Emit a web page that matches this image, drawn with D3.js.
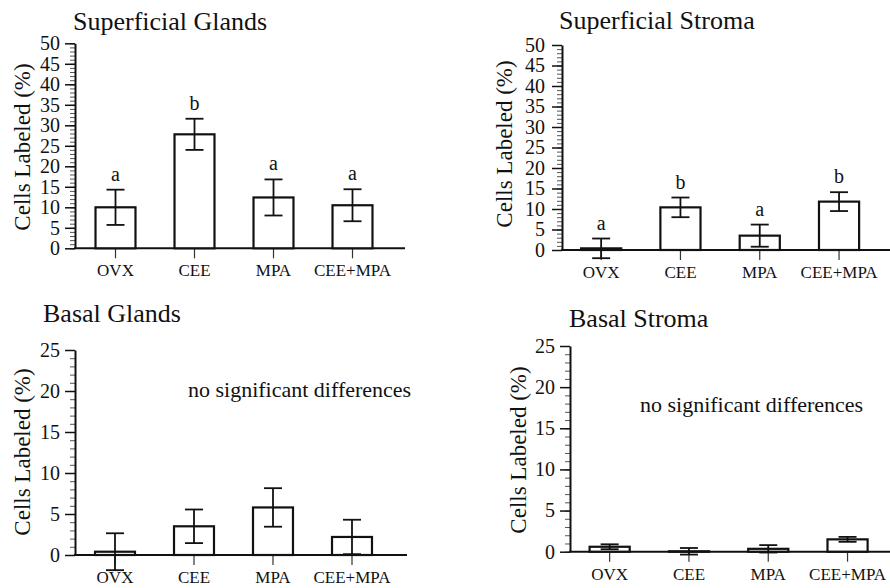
<!DOCTYPE html>
<html>
<head>
<meta charset="utf-8">
<script src="https://cdn.jsdelivr.net/npm/d3@7"></script>
<style>
  html, body { margin: 0; padding: 0; background: #fff; }
  svg { display: block; }
  svg text { font-family: "Liberation Serif", "Times New Roman", Times, serif; fill: #111; }
</style>
</head>
<body>
<svg id="chart" width="890" height="588"></svg>
<script>
// ---- data ----
const categories = ["OVX", "CEE", "MPA", "CEE+MPA"];

const titles = ["Superficial Glands", "Superficial Stroma", "Basal Glands", "Basal Stroma"];

const superficialGlandsMean = [10.0, 27.8, 12.4, 10.5];
const superficialGlandsErr  = [4.3, 3.8, 4.4, 3.9];
const superficialGlandsSig  = ["a", "b", "a", "a"];

const superficialStromaMean = [0.4, 10.4, 3.5, 11.8];
const superficialStromaErr  = [2.4, 2.4, 2.7, 2.3];
const superficialStromaSig  = ["a", "b", "a", "b"];

const basalGlandsMean = [0.4, 3.5, 5.8, 2.2];
const basalGlandsErr  = [2.25, 2.05, 2.35, 2.1];

const basalStromaMean = [0.6, 0.05, 0.35, 1.5];
const basalStromaErr  = [0.3, 0.4, 0.45, 0.3];

const topTicks = [0, 5, 10, 15, 20, 25, 30, 35, 40, 45, 50];
const bottomTicks = [0, 5, 10, 15, 20, 25];
const yTitle = "Cells Labeled (%)";
const noteText = "no significant differences";

// ---- drawing ----
const FONT = '"Liberation Serif", "Times New Roman", Times, serif';
const svg = d3.select("#chart");

function panel(cfg) {
  const g = svg.append("g");
  const x = d3.scaleBand().domain(categories)
    .range([cfg.xStart, cfg.xStart + 4 * cfg.step])
    .paddingInner(0.494).paddingOuter(0.247);
  const y = d3.scaleLinear().domain([0, cfg.max]).range([cfg.y0, cfg.yTop]);

  // minor ticks
  const minor = d3.range(0, cfg.max + 0.001, 1);
  g.append("g").attr("transform", `translate(${cfg.axisX},0)`)
    .call(d3.axisLeft(y).tickValues(minor).tickSize(5).tickFormat(""))
    .call(s => s.select(".domain").remove())
    .call(s => s.selectAll("line").attr("stroke", "#555").attr("stroke-width", 1));

  // major y axis
  const ya = g.append("g").attr("transform", `translate(${cfg.axisX},0)`)
    .call(d3.axisLeft(y).tickValues(cfg.ticks).tickSize(10).tickPadding(cfg.tickPad).tickSizeOuter(0));
  ya.select(".domain").attr("stroke", "#111").attr("stroke-width", 2);
  ya.selectAll(".tick line").attr("stroke", "#111").attr("stroke-width", 1.5);
  ya.selectAll(".tick text").style("font-size", "20px")
    .style("font-family", FONT).attr("fill", "#111");

  // x axis line
  g.append("line").attr("x1", cfg.axisX - 1).attr("x2", cfg.xEnd)
    .attr("y1", y(0)).attr("y2", y(0)).attr("stroke", "#111").attr("stroke-width", 2);

  // category ticks and labels
  const xa = g.append("g").attr("transform", `translate(0,${y(0)})`)
    .call(d3.axisBottom(x).tickSize(10).tickPadding(6).tickSizeOuter(0));
  xa.select(".domain").remove();
  xa.selectAll(".tick line").attr("stroke", "#333").attr("stroke-width", 1.2);
  xa.selectAll(".tick text").style("font-size", "17px")
    .style("font-family", FONT).attr("fill", "#111")
    .attr("dy", "0.71em");

  const data = categories.map((c, i) => ({ c, m: cfg.mean[i], e: cfg.err[i], s: cfg.sig ? cfg.sig[i] : null }));

  // bars
  g.selectAll("rect.bar").data(data).enter().append("rect")
    .attr("class", "bar")
    .attr("x", d => x(d.c)).attr("width", x.bandwidth())
    .attr("y", d => y(d.m)).attr("height", d => Math.max(0, y(0) - y(d.m)))
    .attr("fill", "#fff").attr("stroke", "#111").attr("stroke-width", 2.2);

  // error bars
  const cx = d => x(d.c) + x.bandwidth() / 2;
  const cap = 9;
  const eb = g.selectAll("g.err").data(data).enter().append("g").attr("class", "err");
  eb.append("line").attr("x1", cx).attr("x2", cx)
    .attr("y1", d => y(d.m + d.e)).attr("y2", d => y(d.m - d.e))
    .attr("stroke", "#111").attr("stroke-width", 1.8);
  eb.append("line").attr("x1", d => cx(d) - cap).attr("x2", d => cx(d) + cap)
    .attr("y1", d => y(d.m + d.e)).attr("y2", d => y(d.m + d.e))
    .attr("stroke", "#111").attr("stroke-width", 1.8);
  eb.append("line").attr("x1", d => cx(d) - cap).attr("x2", d => cx(d) + cap)
    .attr("y1", d => y(d.m - d.e)).attr("y2", d => y(d.m - d.e))
    .attr("stroke", "#111").attr("stroke-width", 1.8);

  // significance letters
  if (cfg.sig) {
    g.selectAll("text.sig").data(data).enter().append("text")
      .attr("class", "sig")
      .attr("x", cx).attr("y", d => y(d.m + d.e) - 9)
      .attr("text-anchor", "middle").style("font-size", "20px").style("font-family", FONT)
      .text(d => d.s);
  }

  // title
  g.append("text").attr("x", cfg.titleX).attr("y", cfg.titleY)
    .style("font-size", "26px").style("font-family", FONT).text(cfg.title);

  // y title
  g.append("text")
    .attr("transform", `translate(${cfg.yTitleX},${cfg.yTitleY}) rotate(-90)`)
    .attr("text-anchor", "middle").style("font-size", "23px").style("font-family", FONT)
    .text(yTitle);

  if (cfg.note) {
    g.append("text").attr("x", cfg.noteX).attr("y", cfg.noteY)
      .style("font-size", "22px").style("font-family", FONT).text(noteText);
  }
}

panel({
  title: titles[0], titleX: 73, titleY: 30,
  axisX: 75, xStart: 76, step: 79, xEnd: 405, tickPad: 5,
  y0: 248.3, yTop: 43.3, max: 50, ticks: topTicks,
  mean: superficialGlandsMean, err: superficialGlandsErr, sig: superficialGlandsSig,
  yTitleX: 30, yTitleY: 147
});

panel({
  title: titles[1], titleX: 559, titleY: 29,
  axisX: 562, xStart: 561.5, step: 79.3, xEnd: 890, tickPad: 7,
  y0: 250, yTop: 45, max: 50, ticks: topTicks,
  mean: superficialStromaMean, err: superficialStromaErr, sig: superficialStromaSig,
  yTitleX: 512, yTitleY: 144
});

panel({
  title: titles[2], titleX: 43, titleY: 322,
  axisX: 75, xStart: 75.5, step: 79, xEnd: 407, tickPad: 5,
  y0: 555, yTop: 350, max: 25, ticks: bottomTicks,
  mean: basalGlandsMean, err: basalGlandsErr, sig: null,
  yTitleX: 30, yTitleY: 452,
  note: true, noteX: 188, noteY: 397
});

panel({
  title: titles[3], titleX: 569, titleY: 327,
  axisX: 570, xStart: 570, step: 79.3, xEnd: 890, tickPad: 5,
  y0: 551.7, yTop: 346, max: 25, ticks: bottomTicks,
  mean: basalStromaMean, err: basalStromaErr, sig: null,
  yTitleX: 526, yTitleY: 450,
  note: true, noteX: 640, noteY: 412
});
</script>
</body>
</html>
